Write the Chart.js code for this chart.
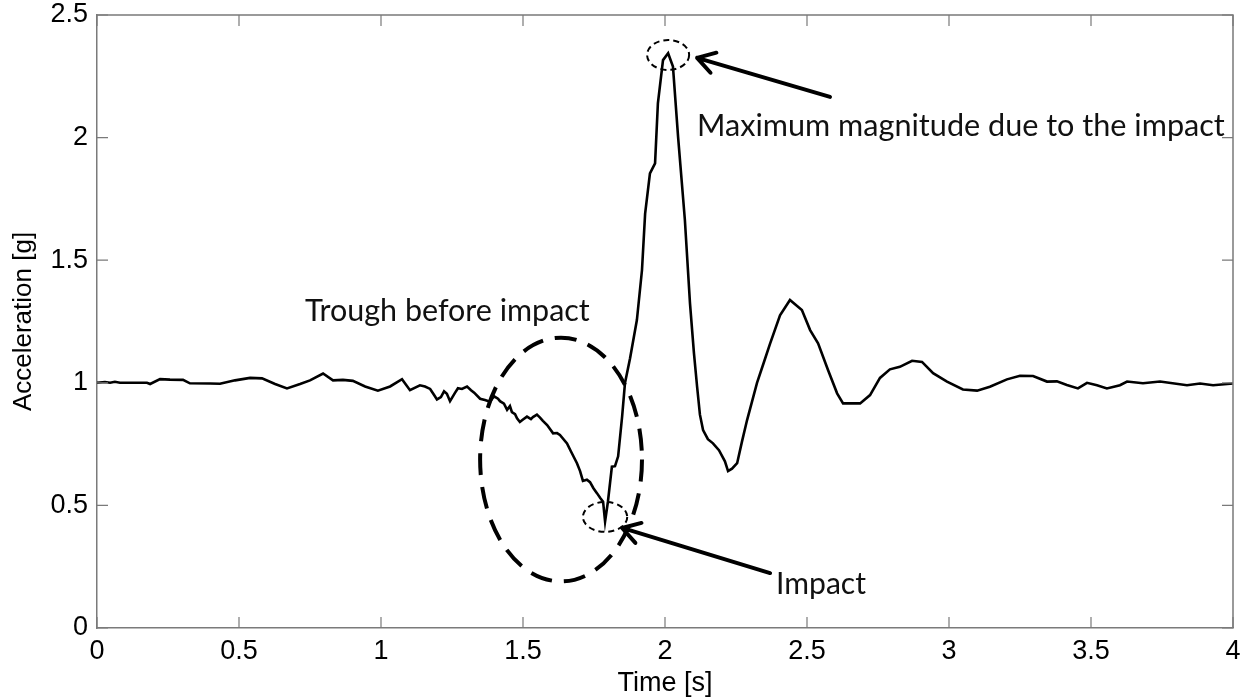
<!DOCTYPE html>
<html>
<head>
<meta charset="utf-8">
<script src="https://cdn.jsdelivr.net/npm/chart.js@4.4.1/dist/chart.umd.min.js"></script>
<style>
  html, body { margin: 0; padding: 0; background: #ffffff; }
  #wrap { width: 1247px; height: 700px; position: relative; }
</style>
</head>
<body>
<div id="wrap"><canvas id="c" width="1247" height="700"></canvas></div>
<script>
// ---- Data ----
const timeS = [
  0.000, 0.028, 0.046, 0.063, 0.081, 0.176, 0.187, 0.222, 0.257, 0.303,
  0.327, 0.398, 0.433, 0.486, 0.539, 0.581, 0.627, 0.669, 0.715, 0.750,
  0.796, 0.831, 0.866, 0.901, 0.944, 0.989, 1.032, 1.074, 1.102, 1.137,
  1.155, 1.173, 1.187, 1.197, 1.211, 1.222, 1.232, 1.243, 1.261, 1.271,
  1.285, 1.303, 1.317, 1.328, 1.349, 1.366, 1.384, 1.398, 1.412, 1.419,
  1.433, 1.444, 1.454, 1.461, 1.472, 1.479, 1.489, 1.500, 1.514, 1.528,
  1.535, 1.549, 1.560, 1.570, 1.585, 1.606, 1.620, 1.630, 1.655, 1.669,
  1.690, 1.701, 1.711, 1.725, 1.736, 1.748, 1.761, 1.772, 1.782, 1.789,
  1.799, 1.813, 1.824, 1.835, 1.849, 1.859, 1.877, 1.901, 1.919, 1.930,
  1.947, 1.965, 1.975, 1.993, 2.011, 2.028, 2.046, 2.070, 2.088, 2.102,
  2.113, 2.123, 2.134, 2.151, 2.169, 2.190, 2.211, 2.222, 2.236, 2.254,
  2.271, 2.289, 2.324, 2.350, 2.370, 2.405, 2.440, 2.482, 2.511, 2.539,
  2.574, 2.606, 2.627, 2.687, 2.722, 2.757, 2.792, 2.827, 2.870, 2.905,
  2.944, 2.993, 3.049, 3.099, 3.144, 3.204, 3.250, 3.296, 3.345, 3.380,
  3.415, 3.454, 3.486, 3.521, 3.556, 3.602, 3.627, 3.683, 3.743, 3.838,
  3.884, 3.930, 4.000
];
const accelG = [
  1.000, 1.003, 1.000, 1.004, 1.000, 1.000, 0.995, 1.015, 1.013, 1.012,
  0.998, 0.997, 0.996, 1.010, 1.020, 1.018, 0.995, 0.977, 0.995, 1.010,
  1.038, 1.010, 1.012, 1.008, 0.985, 0.968, 0.985, 1.015, 0.970, 0.990,
  0.985, 0.975, 0.950, 0.932, 0.942, 0.965, 0.955, 0.925, 0.960, 0.978,
  0.975, 0.985, 0.970, 0.960, 0.935, 0.930, 0.923, 0.945, 0.935, 0.925,
  0.915, 0.890, 0.905, 0.880, 0.872, 0.855, 0.840, 0.850, 0.862, 0.852,
  0.860, 0.870, 0.858, 0.845, 0.828, 0.794, 0.795, 0.787, 0.753, 0.720,
  0.672, 0.640, 0.600, 0.605, 0.595, 0.570, 0.549, 0.530, 0.515, 0.434,
  0.515, 0.658, 0.660, 0.700, 0.862, 0.998, 1.100, 1.256, 1.460, 1.690,
  1.854, 1.895, 2.140, 2.316, 2.344, 2.290, 2.004, 1.664, 1.324, 1.120,
  0.984, 0.870, 0.807, 0.770, 0.753, 0.725, 0.680, 0.640, 0.650, 0.672,
  0.760, 0.848, 1.000, 1.090, 1.160, 1.275, 1.338, 1.297, 1.215, 1.161,
  1.052, 0.957, 0.916, 0.916, 0.950, 1.020, 1.055, 1.065, 1.090, 1.085,
  1.039, 1.005, 0.973, 0.968, 0.984, 1.014, 1.029, 1.028, 1.005, 1.006,
  0.991, 0.977, 1.000, 0.990, 0.977, 0.990, 1.005, 0.998, 1.005, 0.990,
  0.997, 0.990, 0.997
];
const xTickValues = [0, 0.5, 1, 1.5, 2, 2.5, 3, 3.5, 4];
const yTickValues = [0, 0.5, 1, 1.5, 2, 2.5];
const xLabel = 'Time [s]';
const yLabel = 'Acceleration [g]';

// Annotation texts
const annTrough = 'Trough before impact';
const annMax = 'Maximum magnitude due to the impact';
const annImpact = 'Impact';

// ---- Annotation geometry (data units) and styles ----
const ellipses = [
  { cx: 1.634, cy: 0.687, rx: 0.285, ry: 0.497, width: 4, dash: [22, 12] },
  { cx: 1.789, cy: 0.453, rx: 0.078, ry: 0.061, width: 2, dash: [6, 4] },
  { cx: 2.011, cy: 2.337, rx: 0.074, ry: 0.061, width: 2, dash: [6, 4] }
];
const arrows = [
  { x1: 2.581, y1: 2.166, x2: 2.113, y2: 2.325 },
  { x1: 2.370, y1: 0.224, x2: 1.849, y2: 0.408 }
];
const texts = [
  { text: annTrough, x: 0.732, y: 1.252, w: 285 },
  { text: annMax, x: 2.113, y: 2.008, w: 528 },
  { text: annImpact, x: 2.391, y: 0.140, w: 90 }
];

const GRAY = '#7a7a7a';

const decorPlugin = {
  id: 'decor',
  afterDatasetsDraw(chart) {
    const ctx = chart.ctx;
    const xs = chart.scales.x, ys = chart.scales.y;
    const a = chart.chartArea;
    ctx.save();
    // box top/right and inward ticks
    ctx.strokeStyle = GRAY;
    ctx.lineWidth = 1.5;
    ctx.beginPath();
    ctx.moveTo(a.left, a.top); ctx.lineTo(a.right, a.top); ctx.lineTo(a.right, a.bottom);
    ctx.stroke();
    ctx.lineWidth = 1.2;
    const TL = 11;
    ctx.beginPath();
    xTickValues.forEach(v => {
      const px = xs.getPixelForValue(v);
      ctx.moveTo(px, a.bottom); ctx.lineTo(px, a.bottom - TL);
      ctx.moveTo(px, a.top); ctx.lineTo(px, a.top + TL);
    });
    yTickValues.forEach(v => {
      const py = ys.getPixelForValue(v);
      ctx.moveTo(a.left, py); ctx.lineTo(a.left + TL, py);
      ctx.moveTo(a.right, py); ctx.lineTo(a.right - TL, py);
    });
    ctx.stroke();

    // dashed ellipses
    ctx.strokeStyle = '#000';
    ellipses.forEach(e => {
      const cx = xs.getPixelForValue(e.cx), cy = ys.getPixelForValue(e.cy);
      const rx = Math.abs(xs.getPixelForValue(e.cx + e.rx) - cx);
      const ry = Math.abs(ys.getPixelForValue(e.cy + e.ry) - cy);
      ctx.lineWidth = e.width;
      ctx.setLineDash(e.dash);
      ctx.beginPath();
      ctx.ellipse(cx, cy, rx, ry, 0, 0, Math.PI * 2);
      ctx.stroke();
    });
    ctx.setLineDash([]);

    // arrows
    ctx.lineWidth = 4;
    ctx.lineCap = 'round';
    ctx.lineJoin = 'round';
    arrows.forEach(r => {
      const x1 = xs.getPixelForValue(r.x1), y1 = ys.getPixelForValue(r.y1);
      const x2 = xs.getPixelForValue(r.x2), y2 = ys.getPixelForValue(r.y2);
      const ang = Math.atan2(y2 - y1, x2 - x1);
      ctx.beginPath();
      ctx.moveTo(x1, y1); ctx.lineTo(x2, y2);
      const hl = 20, ha = 0.55;
      ctx.moveTo(x2 - hl * Math.cos(ang - ha), y2 - hl * Math.sin(ang - ha));
      ctx.lineTo(x2, y2);
      ctx.lineTo(x2 - hl * Math.cos(ang + ha), y2 - hl * Math.sin(ang + ha));
      ctx.stroke();
    });

    // annotation texts, fitted to target widths
    ctx.fillStyle = '#111';
    ctx.textBaseline = 'alphabetic';
    ctx.textAlign = 'left';
    texts.forEach(t => {
      ctx.font = '100px Lato';
      const m = ctx.measureText(t.text).width;
      const size = 100 * t.w / m;
      ctx.font = size.toFixed(2) + 'px Lato';
      ctx.fillText(t.text, xs.getPixelForValue(t.x), ys.getPixelForValue(t.y));
    });
    ctx.restore();
  }
};

const points = timeS.map((t, i) => ({ x: t, y: accelG[i] }));

new Chart(document.getElementById('c'), {
  type: 'line',
  data: {
    datasets: [{
      data: points,
      borderColor: '#000',
      borderWidth: 2.6,
      pointRadius: 0,
      tension: 0,
      fill: false
    }]
  },
  options: {
    responsive: false,
    animation: false,
    events: [],
    layout: { padding: { top: 15, right: 14, left: 0, bottom: 0 } },
    plugins: { legend: { display: false }, tooltip: { enabled: false } },
    scales: {
      x: {
        type: 'linear', min: 0, max: 4,
        afterBuildTicks(s) { s.ticks = xTickValues.map(v => ({ value: v })); },
        afterFit(s) { s.height = 72; s.paddingLeft = 0; s.paddingRight = 0; },
        grid: { drawOnChartArea: false, drawTicks: false },
        border: { display: true, color: GRAY, width: 1.5 },
        ticks: {
          color: '#000', padding: 7,
          font: { family: 'Liberation Sans', size: 27 },
          maxRotation: 0, autoSkip: false,
          callback: v => String(v)
        },
        title: {
          display: true, text: xLabel, color: '#000',
          font: { family: 'Liberation Sans', size: 27 },
          padding: { top: 0, bottom: 0 }
        }
      },
      y: {
        type: 'linear', min: 0, max: 2.5,
        afterBuildTicks(s) { s.ticks = yTickValues.map(v => ({ value: v })); },
        afterFit(s) { s.width = 97; s.paddingTop = 0; s.paddingBottom = 0; },
        grid: { drawOnChartArea: false, drawTicks: false },
        border: { display: true, color: GRAY, width: 1.5 },
        ticks: {
          color: '#000', padding: 9,
          font: { family: 'Liberation Sans', size: 27 },
          autoSkip: false,
          callback: v => String(v)
        },
        title: {
          display: true, text: yLabel, color: '#000',
          font: { family: 'Liberation Sans', size: 26 },
          padding: { top: 8, bottom: 0 }
        }
      }
    }
  },
  plugins: [decorPlugin]
});
</script>
</body>
</html>
